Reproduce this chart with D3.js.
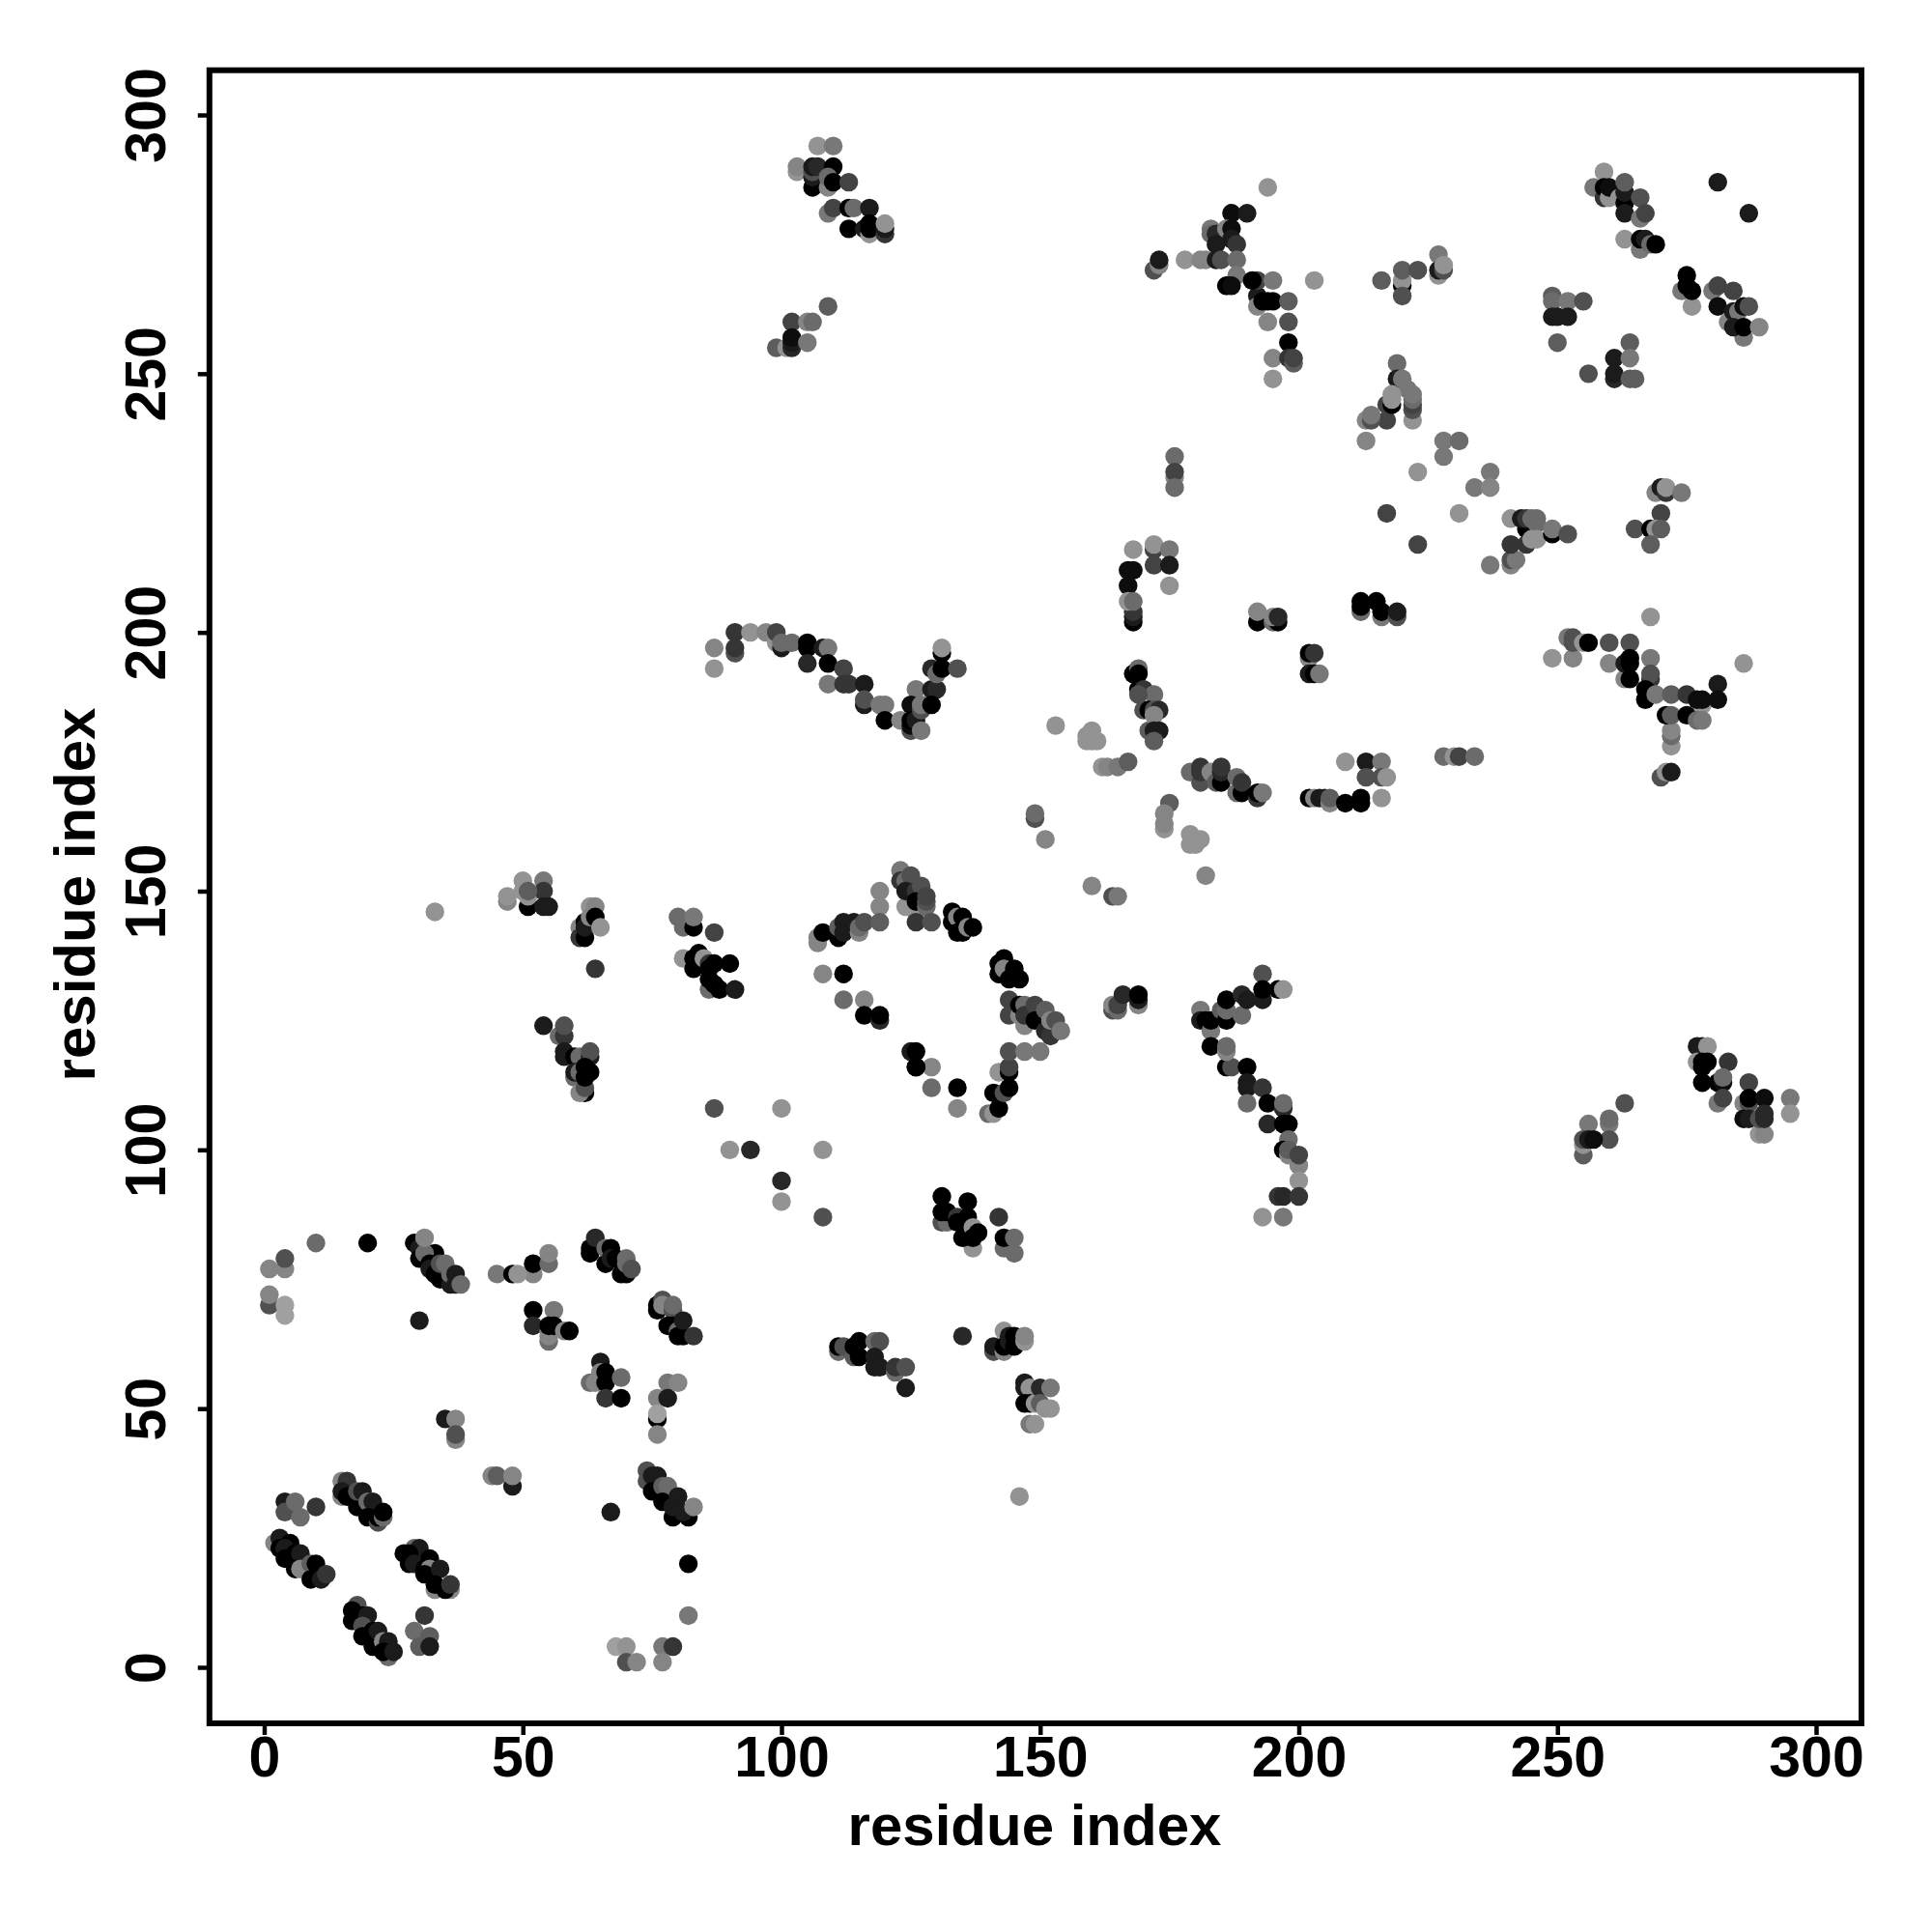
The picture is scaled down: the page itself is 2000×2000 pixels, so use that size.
<!DOCTYPE html>
<html><head><meta charset="utf-8">
<script src="https://cdn.jsdelivr.net/npm/d3@7"></script>
<style>html,body{margin:0;background:#fff}svg{display:block}</style>
</head><body><svg id="c" width="2000" height="2000"></svg>
<script>
// Each contact: [residue i, residue j, grey level 0 (strong) .. 6 (weak)]
const tickValues = [0, 50, 100, 150, 200, 250, 300];
const axisTitle = "residue index";
const nTerminal = [[10,82,4],[20,82,0],[1,77,5],[4,77,5],[4,79,3],[1,70,3],[1,72,5],[4,68,6],[4,70,6],
[29,82,0],[30,81,1],[30,79,0],[33,80,0],[31,80,4],[32,78,0],[32,77,1],[31,83,5],[33,76,0],[34,75,0],[34,78,3],[35,78,4],[36,74,1],[36,76,4],[37,76,1],[37,74,1],[38,74,4],
[30,67,1],[45,76,4.5],[48,76,0],[52,76,5],[49,76,5.5],[52,78,0],[55,78,4],[55,80,5],
[63,81,0],[63,80,0],[64,83,1.5],[66,78,0],[66,81,4],[67,81,0],[67,79,1],[68,79,0],[69,76,0],[70,76,0],[70,78,4],[70,79,4],[71,77,3],
[76,69,0],[76,70,0],[77,71,3],[77,70,5],[79,69,3],[79,70,4],[78,66,0],[79,66,0],[80,65,4],[80,64,0],[81,64,0],[81,67,1],[83,64,2],
[52,69,0],[56,69,4.5],[52,66,1.5],[55,63,4],[55,64,5],[55,65,5],[55,66,0],[56,66,0],[58,65,5],[59,65,0],
[63,55,4],[64,55,5],[65,59,1],[65,57,5],[66,57,0],[66,55,0],[69,56,4],[66,52,2],[69,52,0],
[78,55,4.5],[80,55,5],[76,52,5],[78,52,1],[76,48,0],[76,49,6],[76,45,5],
[35,48,1],[37,48,5],[37,44,5],[37,45,3],[44,37,5],[45,37,3.5],[48,35,1],[48,37,5],
[67,30,1],[82,20,0],[82,10,4.5],[68,4,6],[70,4,5.5],[70,1,3],[72,1,5],[77,4,4.5],[79,4,2],[77,1,5]];
const strandPairs = [[74,38,3],[74,36,3],[75,37,1],[76,37,1],[75,34,0],[77,35,3.5],[78,35,4],[77,32,0],[79,29,0],[79,31,1],[80,33,1],[82,29,0],[81,30,1],[83,31,5],
[4,32,1],[4,30,3],[6,32,4],[7,29,4],[10,31,2],
[15,36,5],[15,33,5],[16,36,2],[15,34,1],[16,33,0],[18,31,0],[18,34,3],[19,34,1],[20,32,4],[21,32,1],[20,29,0],[22,28,3],[22,29,0],[23,29,4],[23,30,0],
[2,24,5],[3,25,1],[3,23,0],[5,24,0],[4,23,1],[4,21,0],[6,22,0],[7,22,1],[6,19,0],[7,19,5],[9,20,3.5],[10,20,0],[9,17,0],[11,17,1],[12,18,2],
[29,23,4],[30,23,1],[27,22,0],[28,22,0],[28,20,0],[29,20,1],[32,21,0],[31,19,0],[32,19,5],[31,18,0],[34,19,1],[33,15,5],[33,16,0],[36,15,5],[35,15,0],[36,16,2],
[18,12,3],[17,11,0],[17,9,0],[19,10,0],[20,10,1],[19,8,3],[19,6,0],[21,7,0],[21,4,0],[22,7,1],[23,5,5],[24,5,1],[24,2,4],[23,3,0],[25,3,1],
[31,10,2],[29,7,4],[30,4,3.5],[32,6,3.5],[32,4,1]];
const middleLeft = [[100,108,5.5],[108,100,5.5],[94,100,1.5],[90,100,5.5],[100,94,1.5],[100,90,5.5],[108,87,3],[87,108,3],
[129,116,5],[126,116,0],[129,112,4],[134,112,0],[134,108,5],[140,107,4],[141,107,5.5],[142,108,0],[141,111,0],[143,111,3],[144,112,0],[142,115,5.5],[144,115,0],[144,116,2.5],
[131,91,0],[136,90,0],[131,86,3],[132,86,4],[131,88,0],[132,88,0],[134,87,2],[134,86,0],[136,87,0],[137,81,5.5],[135,83,0],[137,85,5.5],[137,83,0],[138,84,0],[142,87,2],[143,81,4],[145,80,4],[143,83,0],[145,83,4],
[111,61,4],[111,62,0],[112,62,3],[114,60,3.5],[114,62,0],[115,60,0],[115,63,0],[118,63,4],[119,63,3],[118,60,1],[118,58,1],[119,58,1],[122,57,4],[122,58,2],[124,58,3],[124,54,1],
[135,64,1.5],[143,65,5.5],[141,61,3],[141,62,1],[143,61,5],[143,62,0],[144,63,1],[144,64,1],[145,62,0],[145,64,0],[147,63,5.5],[147,64,5],
[147,55,1],[147,54,1],[148,54,5.5],[147,51,0],[148,51,0],[149,51,5.5],[150,54,1.5],[150,51,3.5],[152,54,4.5],[151,50,5.5],[152,50,5.5],[148,47,4.5],[149,47,5.5],[146,33,5.5],
[186,116,0],[187,116,3],[190,116,0],[190,113,1],[190,112,1],[193,112,2],[190,109,4],[194,109,0],[197,108,1.5],[197,109,4],[194,105,1.5],[197,105,0],[198,105,0],[198,102,4],[197,100,0],[198,99,5],[198,100,3.5],[200,97,5],[200,99,2.5],[200,94,5.5],[196,91,2],[197,91,1.5],[200,91,2],[193,87,5.5],[197,87,4.5]];
const centerLeft = [[33,146,5.5],[47,148,5],[47,149,5.5],[50,152,5.5],[54,152,4.5],[51,147,0],[51,149,5.5],[50,150,5.5],[54,150,2],[54,147,1],[55,147,1],[51,150,3.5],
[63,147,5.5],[64,147,5],[61,143,5],[61,141,2],[62,141,0],[62,144,0],[62,143,1],[63,145,5],[64,145,0],[65,143,5.5],[64,135,2],
[80,145,4],[81,143,4],[83,143,0],[83,145,4.5],[87,142,2.5],[81,137,5.5],[83,135,0],[83,137,0],[84,138,0],[85,137,5.5],[86,136,2],[87,136,0],[90,136,0],[86,131,4],[86,133,0],[86,135,0],[87,132,0],[88,131,0],[91,131,1],
[54,124,1],[57,122,4],[58,122,2],[58,124,3],[58,119,1],[58,118,1],[60,118,0],[61,118,4],[63,118,1],[63,119,3],[60,114,4],[60,115,1],[61,115,4],[62,111,0],[61,111,5],[62,112,3],[62,114,0],[62,116,0],[63,115,0],
[107,140,5],[107,141,5],[108,142,0],[111,141,0],[111,143,3.5],[112,144,1],[112,142,1],[114,144,1],[115,142,5],[115,143,4],[116,144,3],[119,150,5],[119,147,5],[119,144,3.5],
[108,134,5],[112,134,0],[112,129,4],[116,129,5],[116,126,0],[119,125,1.5],[119,126,0],[125,119,1],[126,119,0],[126,116,0],
[123,154,4.5],[123,152,2],[124,152,4],[125,153,3],[124,147,5.5],[126,146,5.5],[124,150,1],[126,150,2],[127,151,3],[126,148,0],[128,147,4],[128,148,3],[128,149,2.5],[126,144,2],[129,144,3],
[133,146,0],[133,144,0],[134,145,5],[135,145,0],[134,142,0],[135,142,0],[136,143,5],[137,143,0]];
const centerRight = [[143,137,0],[142,136,0],[142,134,0],[143,135,5],[145,135,0],[144,133,0],[146,133,0],
[144,129,2.5],[144,126,2.5],[147,124,5],[146,126,5],[146,128,0],[147,128,4],[147,126,2],[149,128,2.5],[149,125,0],[151,127,3.5],[151,123,1.5],[152,122,2],[152,125,5],[153,125,3],[154,123,4.5],
[144,119,3],[147,119,4.5],[150,119,4.5],
[164,127,3],[164,128,5],[165,127,4],[165,128,2.5],[166,130,1.5],[169,128,5],[169,129,1],[169,130,0],
[181,127,4.5],[181,125,1],[182,125,0],[183,123,4.5],[183,125,0],[185,127,3.5],[186,125,0],[186,127,4],[186,129,0],[189,126,4],[189,130,1.5],[190,129,1],[193,134,3],[193,129,1],[193,131,0],[196,131,0],[197,131,5.5],[183,120,0],[186,119,5],[186,120,4],
[153,182,5.5],[160,181,5.5],[159,180,5.5],[159,179,5.5],[160,179,5.5],[161,179,5.5],[162,174,5.5],[163,174,5],[165,174,4.5],[167,175,3.5],
[149,164,3],[149,165,4],[151,160,5],[160,151,5],[164,149,3],[165,149,4.5],
[175,167,3.5],[174,162,5.5],[174,163,5],[174,165,5],[179,161,5.5],[179,159,5.5],[180,159,5.5],[180,160,5.5],[181,160,5.5],[182,153,5],
[179,173,4],[181,171,3],[181,173,2],[181,174,2],[183,173,5],[184,171,3.5],[185,171,0],[185,173,1.5],[185,174,2],[188,169,4],[188,172,4],[189,169,0],[189,171,2],[192,168,2],[192,169,0],[193,169,4.5],
[209,175,5.5],[213,175,1],[216,175,4.5],[213,172,3],[216,172,3],[217,172,5.5],[216,168,5.5],[202,168,0],[203,168,5],[204,168,1],[205,168,1],[206,167,5],[206,168,3.5],[209,167,0],[212,167,0],[212,168,0],
[228,176,4],[230,176,5.5],[231,176,2.5],[234,176,4]];
const upperMiddle = [[107,294,5.5],[110,294,4.5],[103,289,5.5],[103,290,5],[106,286,0],[106,288,1],[106,289,3],[106,290,1],[107,290,1.5],[110,290,0],[109,286,5],[109,288,4],[110,287,0],[113,287,2.5],
[109,281,4.5],[110,282,2.5],[113,278,0],[113,282,0],[114,282,4],[117,282,1],[116,278,1],[117,277,5.5],[117,278,0],[117,279,0],[120,277,2],[120,278,1],[120,279,5.5],
[109,263,3.5],[102,260,2.5],[105,260,5],[106,260,4],[99,255,3.5],[101,255,5.5],[102,255,1.5],[102,256,1],[102,257,0.5],[105,256,4.5],
[87,197,5],[87,193,5.5],[91,196,3],[91,197,2],[91,200,2],[94,200,5.5],[97,200,5],[99,198,5.5],[99,200,2.5],[100,197,1],[100,198,4],[102,198,4],[105,197,0],[105,198,0],[108,197,1],[109,197,4.5],[105,194,1.5],[109,194,0],[112,193,2.5],[109,190,4.5],[112,190,2],[113,190,2],[116,190,1],
[116,186,1],[116,187,3],[119,186,4.5],[120,186,4.5],[120,183,0],[123,183,5],[126,189,4.5],[125,186,0.5],[125,181,3],[125,182,0.5],[125,183,0],[126,183,1],[127,185,3],[127,186,4.5],[127,181,4.5],[129,189,1],[130,189,1.5],[129,186,0],[129,193,1.5],[130,192,4],[131,193,0],[131,196,0],[131,197,5.5],[134,193,3],
[176,234,4],[176,230,5],[176,231,2.5],[176,228,4],[168,216,5.5],[172,216,2.5],[172,217,5.5],[175,216,4.5],[172,213,2.5],[175,213,1],[175,209,5.5],[167,212,0.5],[168,212,0.5],[167,209,0.5],
[168,202,0],[168,203,1],[168,204,2],[167,206,5.5],[168,206,4],
[192,202,0],[192,204,5],[195,202,4],[196,202,0],[195,203,5],[196,203,1.5],
[212,204,4],[212,205,0],[212,206,0],[215,206,0],[216,203,4.5],[216,204,0],[219,203,3],[219,204,1],
[202,195,5],[202,196,0],[203,196,2],[202,192,1],[203,192,0],[204,192,4.5],
[168,192,0],[169,193,4],[169,192,0],[169,189,0],[170,189,2],[172,188,4],[169,188,3],[170,185,3],[171,185,0],[172,185,3],[173,185,1.5],[171,181,3.5],[172,184,5],[172,181,1],[173,181,1],[172,179,3.5]];
const upperRight = [[172,270,3],[173,271,5],[173,272,1],[178,272,5.5],[181,272,5],[182,272,5],[183,278,4.5],[183,277,4],[184,277,1.5],[184,275,1],[184,272,1],[185,272,3],[187,281,0.5],[190,281,1],[186,278,5],[187,278,0.5],[187,276,1],[188,275,2],[188,272,4],[188,269,4.5],[186,267,0],[187,267,0.5],
[194,286,5.5],[192,265,1],[192,263,5],[192,268,2.5],[195,268,4.5],[191,268,0],[193,264,0],[194,264,0],[195,264,0],[198,264,3.5],[194,260,5],[198,260,3],[198,256,0],[195,253,5],[198,253,2],[199,252,3.5],[199,253,2.5],[195,249,5.5],[203,268,5.5],
[216,268,3.5],[220,267,0],[220,268,5.5],[220,270,3.5],[220,265,3],[223,270,3],[227,269,5.5],[227,273,4.5],[227,270,1],[228,270,3],[228,271,5.5],
[219,252,4],[219,249,1],[220,249,4.5],[222,241,5.5],[222,243,3],[222,244,2.5],[222,245,4],[221,247,4.5],[222,246,4.5],[217,244,2.5],[217,241,2.5],[218,244,0],[218,245,5.5],[218,246,5.5],[213,241,5],[214,241,3],[214,242,4.5],[213,237,5],
[228,237,4.5],[231,237,4],[228,234,4.5],[223,231,5.5],[237,231,4.5],[234,228,4.5],[237,228,5],[217,223,2.5],[231,223,5.5],[223,217,2.5],
[237,213,4.5],[241,213,5],[241,214,3],[242,214,4.5],[241,217,2],[244,217,2],[244,220,0],[241,222,5.5],[243,222,1],[244,222,2],[245,222,4],[246,222,4],[246,221,4],[245,218,5.5],[246,218,5.5],[249,219,0],[249,220,4.5],[252,219,3],
[269,227,5],[270,228,1],[271,227,2],[271,228,5.5],[274,227,4.5],[270,223,2.5],[265,220,3],[268,220,0],[269,220,5.5],[270,220,3.5],[268,217,3.5],
[249,265,3.5],[249,264,4],[249,261,1],[250,261,1],[252,264,4.5],[252,261,1],[255,264,3],[250,256,3.5],
[264,256,3.5],[261,253,1],[264,253,4.5],[256,250,3],[261,249,1.5],[261,250,1],[264,249,3.5],[265,249,3.5],
[259,289,5.5],[257,286,4.5],[259,284,2],[259,286,0],[260,284,5.5],[260,286,0.5],[262,284,5.5],[263,283,0],[263,285,1],[263,287,3.5],[266,284,3],[263,281,1],[266,280,4.5],[267,281,2.5],[263,276,5.5],[266,274,4.5],[266,276,0],[267,276,1],[268,275,4],[269,275,0],
[281,287,1],[287,281,1],
[274,266,4.5],[275,269,0],[275,267,0],[276,263,5.5],[276,266,0],[280,266,4.5],[281,267,2.5],[281,263,0.5],[284,266,2.5],[283,260,5],[284,262,1],[285,262,4.5],[286,257,4.5],[284,259,1],[286,259,0],[286,263,0.5],[287,263,3],[289,259,5]];
const lowerRight = [[268,203,5.5],[286,194,5.5],[249,195,5.5],[253,195,5],[252,199,4.5],[253,198,3],[253,199,3],[255,198,5.5],[256,198,0],[260,198,3],[264,198,3],[260,194,5],[263,191,5],[263,194,1],[264,194,0],[264,195,0],[264,191,0],[268,195,4.5],[268,191,2],[268,192,3],
[267,187,0],[267,189,0],[269,188,4.5],[272,188,3.5],[275,188,2],[278,186,5.5],[277,187,0.5],[278,187,0.5],[281,190,1],[281,187,0.5],
[272,178,5.5],[272,180,4],[272,181,5],[271,184,0],[272,184,3.5],[275,184,0],[277,183,4],[278,183,4.5],[270,172,3],[271,173,5.5],[272,173,1],
[277,120,1],[278,120,1],[279,120,5.5],[277,117,5.5],[278,117,0],[279,117,0],[278,116,0],[283,117,2],[278,113,0],[281,113,0],[282,113,0.5],[282,114,4],[281,109,4.5],[282,110,2.5],
[287,113,2.5],[286,109,5],[287,109,3],[287,110,0],[290,110,0.5],[286,106,0.5],[287,106,1],[289,103,5.5],[290,103,5],[289,106,3],[290,106,1.5],[290,107,1.5],[295,110,4.5],[295,107,5.5],
[263,109,3],[260,105,4.5],[260,106,4],[256,105,4.5],[260,102,3],[255,99,3.5],[255,101,5.5],[255,102,3],[256,102,1],[257,102,0.5]];

const contacts = d3.merge([nTerminal, strandPairs, middleLeft, centerLeft, centerRight, upperMiddle, upperRight, lowerRight]);

const svg = d3.select("#c");
const FONT = "'Liberation Sans', Arial, sans-serif";
const x = d3.scaleLinear().domain([0, 300]).range([273.5, 1880]);
const y = d3.scaleLinear().domain([0, 300]).range([1726, 119]);
const grey = d3.scaleLinear().domain([0, 6]).range(["#000000", "#a0a0a0"]);
const box = {l: 216.8, r: 1927, t: 72.7, b: 1784};

svg.append("g").selectAll("circle").data(contacts).join("circle")
  .attr("cx", d => x(d[0])).attr("cy", d => y(d[1])).attr("r", 9.7)
  .attr("fill", d => grey(d[2]));

const ax = svg.append("g").attr("transform", `translate(0,${box.b})`)
  .call(d3.axisBottom(x).tickValues(tickValues).tickSize(12).tickPadding(0));
ax.select(".domain").remove();
ax.selectAll("line").attr("stroke", "#000").attr("stroke-width", 4.5);
ax.selectAll("text").attr("y", 0).attr("dy", 0)
  .attr("transform", "translate(0,55)")
  .attr("font-family", FONT).attr("font-weight", "bold").attr("font-size", 59).attr("fill", "#000");

const ay = svg.append("g").attr("transform", `translate(${box.l},0)`)
  .call(d3.axisLeft(y).tickValues(tickValues).tickSize(12).tickPadding(0));
ay.select(".domain").remove();
ay.selectAll("line").attr("stroke", "#000").attr("stroke-width", 4.5);
ay.selectAll("text").attr("x", 0).attr("dy", 0).attr("y", 0)
  .attr("text-anchor", "middle")
  .attr("transform", "translate(-46,0) rotate(-90)")
  .attr("font-family", FONT).attr("font-weight", "bold").attr("font-size", 59).attr("fill", "#000");

svg.append("rect").attr("x", box.l).attr("y", box.t)
  .attr("width", box.r - box.l).attr("height", box.b - box.t)
  .attr("fill", "none").attr("stroke", "#000").attr("stroke-width", 6);

svg.append("text").attr("x", 1071).attr("y", 1910).attr("text-anchor", "middle")
  .attr("font-family", FONT).attr("font-weight", "bold").attr("font-size", 60).text(axisTitle);
svg.append("text").attr("transform", "translate(98,926) rotate(-90)").attr("text-anchor", "middle")
  .attr("font-family", FONT).attr("font-weight", "bold").attr("font-size", 60).text(axisTitle);
</script></body></html>
